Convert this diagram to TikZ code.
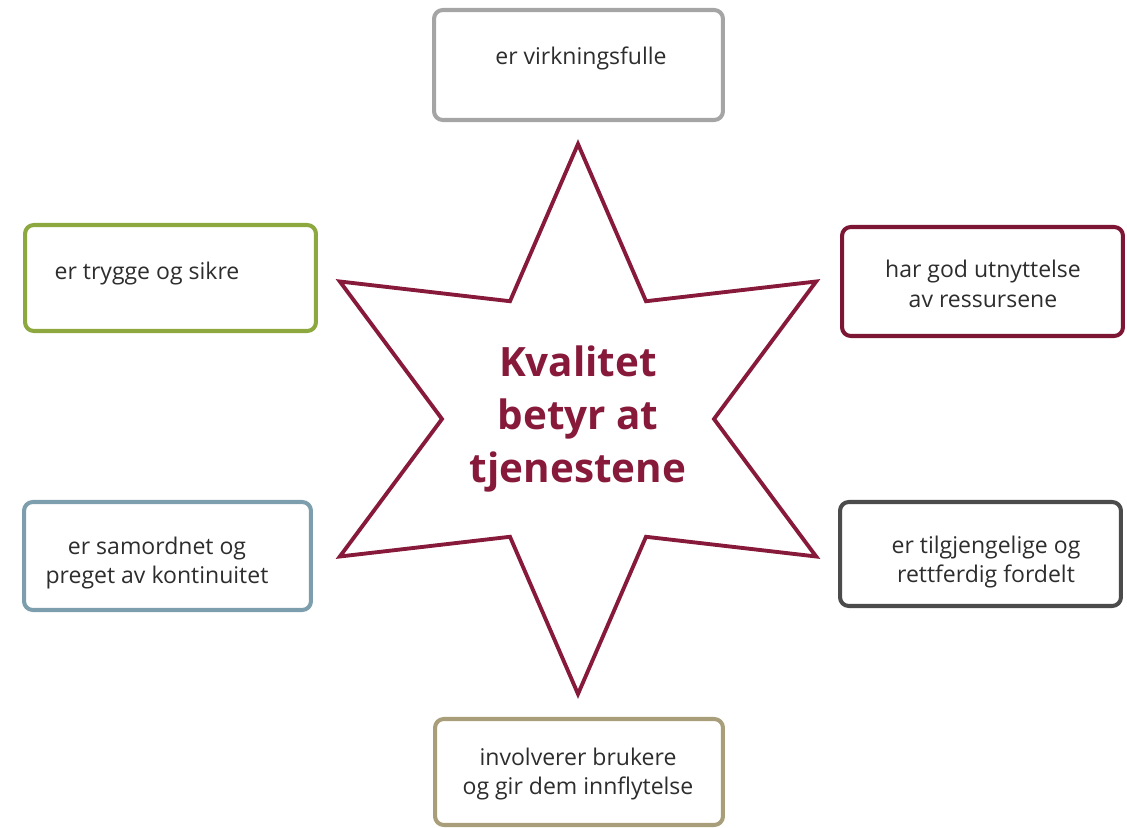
\documentclass[tikz,border=0pt]{standalone}
\usepackage{fontspec}
\setmainfont{Open Sans}
\usetikzlibrary{calc,positioning}
\definecolor{boxgray}{RGB}{165,165,165}
\definecolor{boxgreen}{RGB}{140,168,62}
\definecolor{boxmaroon}{RGB}{125,22,52}
\definecolor{boxblue}{RGB}{125,158,172}
\definecolor{boxdark}{RGB}{75,75,75}
\definecolor{boxkhaki}{RGB}{168,158,122}
\definecolor{starred}{RGB}{135,25,58}
\definecolor{darktext}{RGB}{45,45,45}

\begin{document}
\begin{tikzpicture}[x=0.02cm, y=-0.02cm,
        box/.style={draw=#1, line width=2.3pt, rounded corners=5pt, inner sep=0pt},
        boxtext/.style={text=darktext, font=\fontsize{13.1}{17}\selectfont, align=center},
        starline/.style={draw=starred, line width=2.2pt, line join=miter}]
        \useasboundingbox (0,0) rectangle (1127,828);

        % the six boxes
        \node[box=boxgray, minimum width=5.78cm, minimum height=2.2cm] (virk) at (578.5,65) {};
        \node[box=boxgreen, minimum width=5.82cm, minimum height=2.12cm] (trygg) at (170.5,278) {};
        \node[box=boxmaroon, minimum width=5.62cm, minimum height=2.18cm] (ressurs) at (982.5,281.5) {};
        \node[box=boxblue, minimum width=5.74cm, minimum height=2.16cm] (samord) at (167.5,556) {};
        \node[box=boxdark, minimum width=5.62cm, minimum height=2.08cm] (tilgj) at (980.5,554) {};
        \node[box=boxkhaki, minimum width=5.76cm, minimum height=2.12cm] (bruker) at (579,772) {};

        \node[boxtext] (virk-t) at (581,58) {er virkningsfulle};
        \node[boxtext] (trygg-t) at (147,274) {er trygge og sikre};
        \node[boxtext] (ressurs-t) at (983,284) {har god utnyttelse\\av ressursene};
        \node[boxtext] (samord-t) at (157,563) {er samordnet og\\preget av kontinuitet};
        \node[boxtext] (tilgj-t) at (986,562) {er tilgjengelige og\\rettferdig fordelt};
        \node[boxtext] (bruker-t) at (578,774) {involverer brukere\\og gir dem innflytelse};

        % star
        \coordinate (mid) at (578,419);
        \foreach \i in {0,...,5} {
                \coordinate (out\i) at ($(mid)+({\i*60+90}:275)$);
                \coordinate (in\i) at ($(mid)+({\i*60+120}:136)$);
        }
        \draw[starline] (out0) -- (in0) -- (out1) -- (in1) -- (out2) -- (in2)
                -- (out3) -- (in3) -- (out4) -- (in4) -- (out5) -- (in5) -- cycle;
        \node[text=starred, font=\fontsize{23}{30.4}\selectfont\bfseries, align=center] (tittel) at (578,419)
                {Kvalitet\\betyr at\\tjenestene};
\end{tikzpicture}
\end{document}
